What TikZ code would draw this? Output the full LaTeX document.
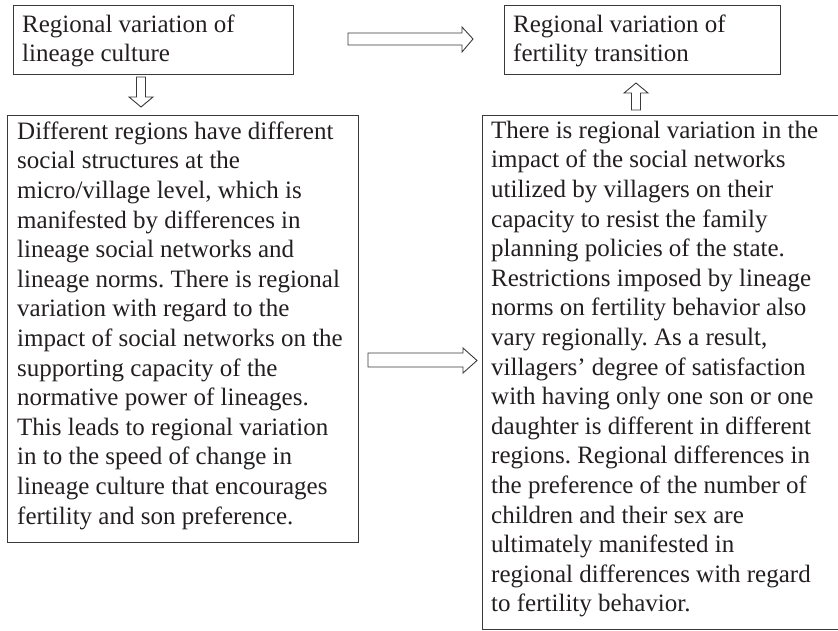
\documentclass[tikz,border=0pt]{standalone}
\usepackage{fontspec}
\setmainfont{Liberation Serif}
\definecolor{linec}{HTML}{3A3A3A}
\definecolor{txtc}{HTML}{231F20}
\frenchspacing
\begin{document}
\begin{tikzpicture}[x=1pt,y=-1pt,
  box/.style={draw=linec, line width=1.1pt, anchor=north west, inner sep=0pt},
  txt/.style={anchor=north west, inner sep=0pt, align=left, text=txtc,
    font=\fontsize{25}{29.6}\selectfont},
  barrow/.style={draw=linec, line width=0.9pt, fill=white, line join=miter}]
\useasboundingbox (0,0) rectangle (838,631);
\clip (0,0) rectangle (838,631);
% boxes
\node[box, minimum width=280, minimum height=69] (b1) at (13,5) {};
\node[box, minimum width=276, minimum height=69] (b3) at (504,5) {};
\node[box, minimum width=351, minimum height=427] (b2) at (7,115) {};
\node[box, minimum width=365, minimum height=514] (b4) at (482,115) {};
% texts
\node[txt] (t1) at (22,11.3) {\strut Regional variation of\\lineage culture};
\node[txt] (t3) at (513,11.3) {\strut Regional variation of\\fertility transition};
\node[txt] (t2) at (17,118.3) {\strut Different regions have different\\
social structures at the\\
micro/village level, which is\\
manifested by differences in\\
lineage social networks and\\
lineage norms. There is regional\\
variation with regard to the\\
impact of social networks on the\\
supporting capacity of the\\
normative power of lineages.\\
This leads to regional variation\\
in to the speed of change in\\
lineage culture that encourages\\
fertility and son preference.};
\node[txt] (t4) at (491,117.3) {\strut There is regional variation in the\\
impact of the social networks\\
utilized by villagers on their\\
capacity to resist the family\\
planning policies of the state.\\
Restrictions imposed by lineage\\
norms on fertility behavior also\\
vary regionally. As a result,\\
villagers’ degree of satisfaction\\
with having only one son or one\\
daughter is different in different\\
regions. Regional differences in\\
the preference of the number of\\
children and their sex are\\
ultimately manifested in\\
regional differences with regard\\
to fertility behavior.};
% block arrows
\draw[barrow] (348,33) -- (462,33) -- (462,27) -- (473,39) -- (462,52) -- (462,45) -- (348,45) -- cycle;
\draw[barrow] (368,353) -- (463,353) -- (463,348) -- (477,360.5) -- (463,373) -- (463,367) -- (368,367) -- cycle;
\draw[barrow] (136.5,77) -- (145.5,77) -- (145.5,97) -- (153,97) -- (141,107) -- (129,97) -- (136.5,97) -- cycle;
\draw[barrow] (631.5,110) -- (640.5,110) -- (640.5,93) -- (648,93) -- (636,83) -- (624,93) -- (631.5,93) -- cycle;
\end{tikzpicture}
\end{document}
